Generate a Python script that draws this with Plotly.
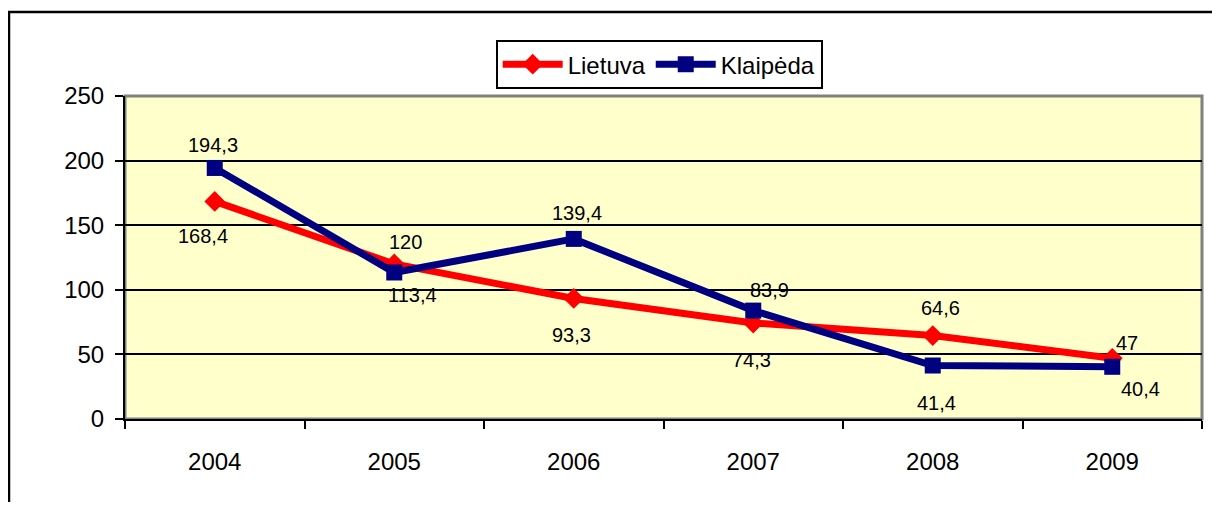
import plotly.graph_objects as go

# Duomenys
metai = ["2004", "2005", "2006", "2007", "2008", "2009"]
lietuva = [168.4, 120, 93.3, 74.3, 64.6, 47]
klaipeda = [194.3, 113.4, 139.4, 83.9, 41.4, 40.4]

# reiksmiu etikeciu poslinkiai (px) nuo tasko
lt_shift = [(-12, -35), (11, 22), (-2, -37), (-2, -37), (8, 28), (15, 15)]
kl_shift = [(-2, 23), (18, -23), (3, 26), (16, 21), (4, -37), (28, -22)]

FONT = "Liberation Sans, Arial, sans-serif"


def fmt(v):
    return ("%g" % v).replace(".", ",")


fig = go.Figure()

fig.add_trace(go.Scatter(
    x=metai, y=lietuva, name="Lietuva", mode="lines+markers",
    line=dict(color="#FF0000", width=7),
    marker=dict(symbol="diamond", size=16, color="#FF0000"),
))
fig.add_trace(go.Scatter(
    x=metai, y=klaipeda, name="Klaipėda", mode="lines+markers",
    line=dict(color="#000080", width=7),
    marker=dict(symbol="square", size=16, color="#000080"),
))

annotations = []
for vals, shifts in ((lietuva, lt_shift), (klaipeda, kl_shift)):
    # kategoriju asyje skaicius = kategorijos indeksas
    for i, (v, (dx, dy)) in enumerate(zip(vals, shifts)):
        annotations.append(dict(
            x=i, y=v, xref="x", yref="y", text=fmt(v), showarrow=False,
            xshift=dx, yshift=dy,
            font=dict(family=FONT, size=20, color="black"),
        ))

# puslapio body turi 8px parasciu, todel figura mazesne
fig.update_layout(
    width=1204, height=494,
    margin=dict(l=117, r=10, t=88, b=83),
    paper_bgcolor="white",
    plot_bgcolor="#FFFFCC",
    font=dict(family=FONT, color="black"),
    showlegend=True,
    legend=dict(
        orientation="h", x=0.496, xanchor="center", y=1.173, yanchor="top",
        bordercolor="black", borderwidth=2, bgcolor="white",
        font=dict(size=24, family=FONT), itemwidth=60,
    ),
    annotations=annotations,
    shapes=[
        # pilka braizymo srities riba
        dict(type="rect", xref="paper", yref="paper", x0=0, x1=1, y0=0, y1=1,
             line=dict(color="#808080", width=3), layer="below"),
        # isorinis remelis
        dict(type="rect", xref="paper", yref="paper", x0=-0.1077, x1=1.2,
             y0=-0.5, y1=1.26, line=dict(color="black", width=2.5)),
    ],
)

fig.update_xaxes(
    type="category", range=[-0.5, 5.5],
    showline=True, linecolor="black", linewidth=2,
    ticks="outside", tickson="boundaries", ticklen=8, tickwidth=2, tickcolor="black",
    showgrid=False, tickfont=dict(size=24, family=FONT), ticklabelstandoff=20,
)
fig.update_yaxes(
    range=[0, 250], dtick=50,
    showline=True, linecolor="black", linewidth=2,
    ticks="outside", ticklen=8, tickwidth=2, tickcolor="black",
    showgrid=True, gridcolor="black", gridwidth=2,
    zeroline=False, tickfont=dict(size=24, family=FONT), ticklabelstandoff=6,
)

fig.write_html("out.html")
